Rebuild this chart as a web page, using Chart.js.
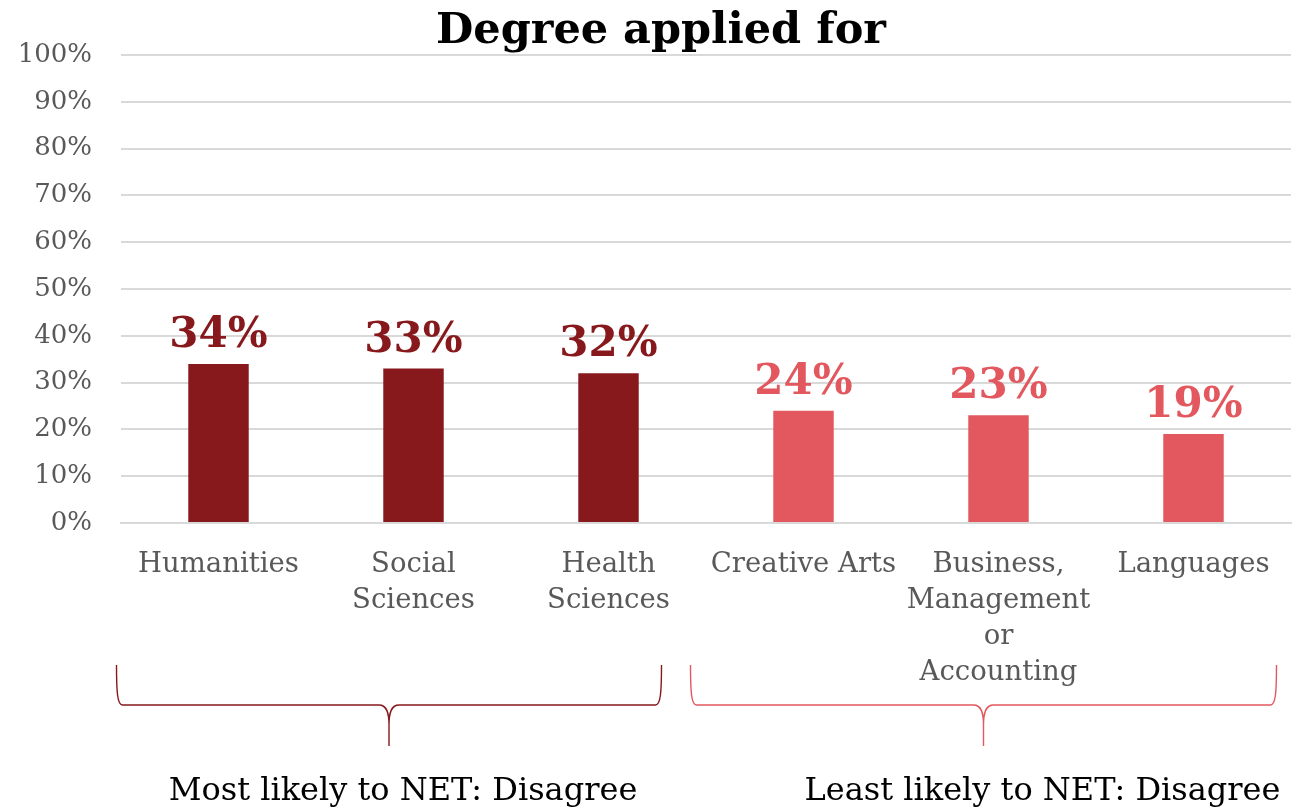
<!DOCTYPE html>
<html>
<head>
<meta charset="utf-8">
<script src="https://cdn.jsdelivr.net/npm/chart.js@4.4.1/dist/chart.umd.min.js"></script>
<style>
  html, body { margin: 0; padding: 0; background: #ffffff; }
  #wrap { width: 1294px; height: 808px; }
</style>
</head>
<body>
<div id="wrap"><canvas id="chart" width="1294" height="808"></canvas></div>
<script>
// Degree categories (multi-line labels as arrays)
const categories = [
  'Humanities',
  ['Social', 'Sciences'],
  ['Health', 'Sciences'],
  'Creative Arts',
  ['Business,', 'Management', 'or', 'Accounting'],
  'Languages'
];
// Share answering NET: Disagree, in percent
const values = [34, 33, 32, 24, 23, 19];
// Which bracket group each category belongs to
const groupIndex = [0, 0, 0, 1, 1, 1];
const groupLabels = ['Most likely to NET: Disagree', 'Least likely to NET: Disagree'];
const groupColors = ['#87181C', '#E2585E'];
const yTickValues = [0, 10, 20, 30, 40, 50, 60, 70, 80, 90, 100];

const FONT = "'DejaVu Serif', 'Liberation Serif', serif";
const chartTitle = 'Degree applied for';

const barColors = groupIndex.map(g => groupColors[g]);

// Title, value labels and group braces drawn on top of the chart
const decorations = {
  id: 'decorations',
  afterDatasetsDraw(chart) {
    const ctx = chart.ctx;
    const meta = chart.getDatasetMeta(0);
    const xs = chart.scales.x;

    ctx.save();
    // title
    ctx.fillStyle = '#000000';
    ctx.font = 'bold 43px ' + FONT;
    ctx.textAlign = 'center';
    ctx.textBaseline = 'alphabetic';
    ctx.fillText(chartTitle, 661, 43);

    // value labels above bars
    ctx.font = 'bold 42px ' + FONT;
    meta.data.forEach((bar, i) => {
      ctx.fillStyle = barColors[i];
      ctx.fillText(values[i] + '%', bar.x, bar.y - 17);
    });

    // braces under each group
    const groups = [[0, 2], [3, 5]];
    const ext = [[102, 53], [113, 83]];
    groups.forEach((g, gi) => {
      const x0 = xs.getPixelForValue(g[0]) - ext[gi][0];
      const x1 = xs.getPixelForValue(g[1]) + ext[gi][1];
      const tip = (x0 + x1) / 2;
      const top = 665, hy = 705, bot = 746;
      ctx.strokeStyle = groupColors[gi];
      ctx.lineWidth = 1.4;
      ctx.beginPath();
      ctx.moveTo(x0, top);
      ctx.bezierCurveTo(x0, hy - 12, x0 + 1, hy, x0 + 6, hy);
      ctx.lineTo(tip - 10, hy);
      ctx.bezierCurveTo(tip - 2, hy, tip, hy + 8, tip, hy + 20);
      ctx.lineTo(tip, bot);
      ctx.moveTo(x1, top);
      ctx.bezierCurveTo(x1, hy - 12, x1 - 1, hy, x1 - 6, hy);
      ctx.lineTo(tip + 10, hy);
      ctx.bezierCurveTo(tip + 2, hy, tip, hy + 8, tip, hy + 20);
      ctx.stroke();

      ctx.fillStyle = '#000000';
      ctx.font = '32px ' + FONT;
      ctx.textAlign = 'center';
      ctx.fillText(groupLabels[gi], tip + (gi === 0 ? 14 : 59), 800);
    });
    ctx.restore();
  }
};

new Chart(document.getElementById('chart'), {
  type: 'bar',
  data: {
    labels: categories,
    datasets: [{
      data: values,
      backgroundColor: barColors,
      borderWidth: 0,
      barPercentage: 0.62,
      categoryPercentage: 0.5
    }]
  },
  options: {
    responsive: false,
    animation: false,
    devicePixelRatio: 1,
    layout: { padding: { top: 55, left: 0, right: 3, bottom: 0 } },
    plugins: {
      legend: { display: false },
      title: { display: false },
      tooltip: { enabled: false }
    },
    scales: {
      x: {
        grid: { display: false, drawTicks: false },
        border: { display: true, color: '#d9d9d9', width: 2 },
        ticks: {
          color: '#595959',
          font: { family: FONT, size: 27.5, lineHeight: 1.31 },
          padding: 24,
          maxRotation: 0,
          autoSkip: false
        },
        afterFit(scale) { scale.height = 285; }
      },
      y: {
        min: 0,
        max: 100,
        afterBuildTicks(scale) { scale.ticks = yTickValues.map(v => ({ value: v })); },
        grid: { color: '#d9d9d9', lineWidth: 2, drawTicks: false },
        border: { display: false },
        ticks: {
          color: '#595959',
          font: { family: FONT, size: 26 },
          padding: 29,
          callback: v => v + '%'
        },
        afterFit(scale) { scale.width = 121; }
      }
    }
  },
  plugins: [decorations]
});
</script>
</body>
</html>
